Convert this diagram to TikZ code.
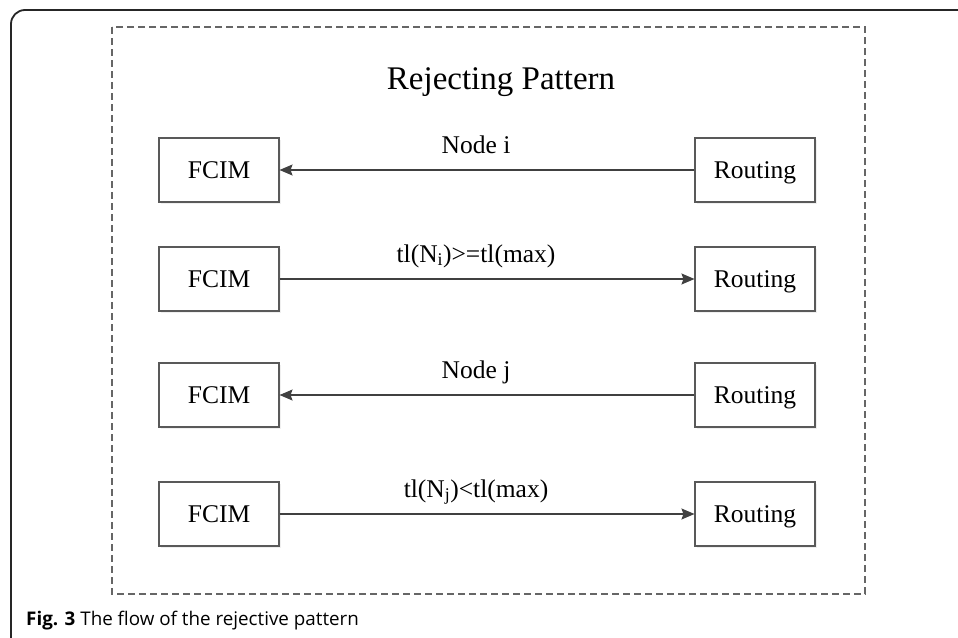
\documentclass[tikz,border=0pt]{standalone}
\usepackage{fontspec}
\setmainfont{Liberation Serif}
\newfontfamily\capfont{Open Sans}
\usetikzlibrary{arrows.meta, shadows}

\begin{document}
\begin{tikzpicture}[x=1pt, y=-1pt,
    frame/.style={black!85, line width=1.8pt, rounded corners=14pt},
    pattern/.style={black!60, line width=1.3pt, dash pattern=on 7pt off 4pt},
    box/.style={draw=black!65, line width=1.1pt, fill=white,
        minimum width=120pt, minimum height=64pt, inner sep=0pt,
        text height=17pt, text depth=0pt,
        font=\fontsize{25.5}{30}\selectfont,
        drop shadow={shadow xshift=1.5pt, shadow yshift=-1.5pt, fill=black!12}},
    msg/.style={black!75, line width=1.2pt,
        -{Stealth[length=13pt, width=11pt, inset=2pt]}},
    lbl/.style={black, anchor=base, xshift=-11pt, yshift=17pt,
        font=\fontsize{25.5}{30}\selectfont}
]
\useasboundingbox (0,0) rectangle (958,637);

% =========================
% Frame and pattern border
% =========================
\draw[frame] (11,660) -- (11,10) -- (980,10);
\draw[pattern] (112,27) rectangle (865,594);

\node[anchor=base, font=\fontsize{33}{40}\selectfont] (title) at (501,89)
    {Rejecting Pattern};

% =========================
% FCIM and Routing boxes
% =========================
\foreach \i/\y in {1/170, 2/279, 3/395, 4/514} {
    \node[box] (F\i) at (219,\y) {FCIM};
    \node[box] (R\i) at (755,\y) {Routing};
}

% messages
\draw[msg] (R1) -- (F1) node[lbl, midway] {Node i};
\draw[msg] (F2) -- (R2) node[lbl, midway] {tl(N\textsubscript{i})>=tl(max)};
\draw[msg] (R3) -- (F3) node[lbl, midway] {Node j};
\draw[msg] (F4) -- (R4) node[lbl, midway] {tl(N\textsubscript{j})<tl(max)};

% caption
\node[anchor=base west, inner sep=0pt, font=\capfont\fontsize{18.8}{22}\selectfont]
    (caption) at (26,625) {\textbf{Fig. 3} The flow of the rejective pattern};

\end{tikzpicture}
\end{document}
